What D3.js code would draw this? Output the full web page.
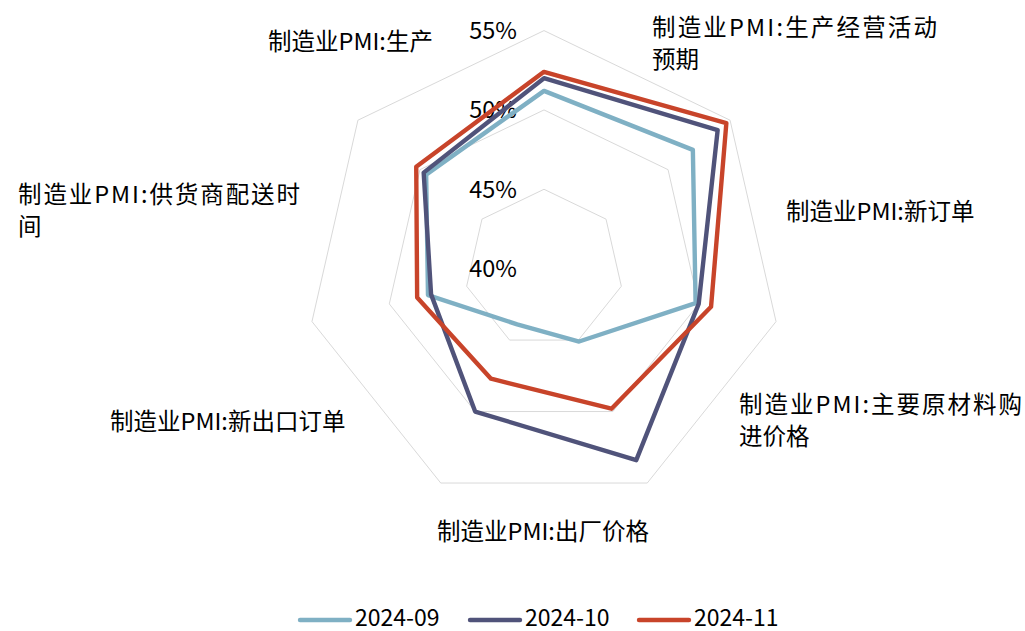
<!DOCTYPE html>
<html>
<head>
<meta charset="utf-8">
<script src="https://cdn.jsdelivr.net/npm/d3@7"></script>
<style>
  body { margin: 0; background: #fff; }
  svg { display: block; font-family: "Noto Sans CJK SC", "Noto Sans", sans-serif; }
</style>
</head>
<body>
<svg id="chart"></svg>
<script>
// categories, clockwise from the top
const categories = [
  '制造业PMI:生产',
  '制造业PMI:生产经营活动预期',
  '制造业PMI:新订单',
  '制造业PMI:主要原材料购进价格',
  '制造业PMI:出厂价格',
  '制造业PMI:新出口订单',
  '制造业PMI:供货商配送时间'
];
const seriesNames = ['2024-09', '2024-10', '2024-11'];
const sep2024 = [51.2, 52.0, 49.8, 45.1, 43.9, 47.5, 49.5];
const oct2024 = [52.0, 54.0, 50.0, 53.4, 50.0, 47.3, 49.7];
const nov2024 = [52.4, 54.7, 50.8, 49.8, 47.7, 48.2, 50.3];
const tickValues = [40, 45, 50, 55];

const width = 1025;
const height = 631;
const cx = 544;
const cy = 268.6;
const radius = 238;
const fontSize = 23.5;
const colors = ['#7fb0c4', '#50537a', '#c8442a'];

// where Excel put the category labels (lines, anchor x, first line centre y, stretched width)
const labelLayout = [
  { lines: ['制造业PMI:生产'], x: 268, y: 42 },
  { lines: ['制造业PMI:生产经营活动', '预期'], x: 652, y: 28, fit: 285 },
  { lines: ['制造业PMI:新订单'], x: 786, y: 212 },
  { lines: ['制造业PMI:主要原材料购', '进价格'], x: 739, y: 405, fit: 283 },
  { lines: ['制造业PMI:出厂价格'], x: 437, y: 532 },
  { lines: ['制造业PMI:新出口订单'], x: 110, y: 422 },
  { lines: ['制造业PMI:供货商配送时', '间'], x: 18, y: 195, fit: 282 }
];

const svg = d3.select('#chart')
  .attr('width', width)
  .attr('height', height);

const g = svg.append('g')
  .attr('transform', `translate(${cx},${cy})`);

const r = d3.scaleLinear().domain([40, 55]).range([0, radius]);
const angle = d3.scalePoint()
  .domain(d3.range(categories.length + 1))
  .range([0, 2 * Math.PI]);

// grid polygons
const gridLine = d3.lineRadial()
  .angle((d, i) => angle(i))
  .radius(d => r(d))
  .curve(d3.curveLinearClosed);

g.selectAll('.grid')
  .data(tickValues.filter(t => t > 40))
  .enter()
  .append('path')
  .attr('d', t => gridLine(categories.map(() => t)))
  .attr('fill', 'none')
  .attr('stroke', '#d9d9d9')
  .attr('stroke-width', 1);

// tick labels
g.selectAll('.tick')
  .data(tickValues)
  .enter()
  .append('text')
  .attr('x', -27)
  .attr('y', t => -r(t))
  .attr('dy', '0.35em')
  .attr('text-anchor', 'end')
  .style('font-size', fontSize + 'px')
  .attr('fill', '#000')
  .text(t => t + '%');

// series
const series = [sep2024, oct2024, nov2024];
const line = d3.lineRadial()
  .angle((d, i) => angle(i))
  .radius(d => r(d))
  .curve(d3.curveLinearClosed);

g.selectAll('.series')
  .data(series)
  .enter()
  .append('path')
  .attr('d', d => line(d))
  .attr('fill', 'none')
  .attr('stroke', (d, i) => colors[i])
  .attr('stroke-width', 4.4)
  .attr('stroke-linejoin', 'round');

// category labels
labelLayout.forEach(lab => {
  lab.lines.forEach((txt, j) => {
    const t = svg.append('text')
      .attr('x', lab.x)
      .attr('y', lab.y + j * 32)
      .attr('dy', '0.35em')
      .style('font-size', fontSize + 'px')
      .attr('fill', '#000')
      .text(txt);
    if (lab.fit && j === 0) {
      t.attr('textLength', lab.fit).attr('lengthAdjust', 'spacing');
    }
  });
});

// legend
const legendX = [298, 468, 637];
const legend = svg.selectAll('.legend')
  .data(seriesNames)
  .enter()
  .append('g')
  .attr('transform', (d, i) => `translate(${legendX[i]},620)`);

legend.append('line')
  .attr('x1', 2).attr('x2', 52)
  .attr('y1', 0).attr('y2', 0)
  .attr('stroke', (d, i) => colors[i])
  .attr('stroke-width', 4.4)
  .attr('stroke-linecap', 'round');

legend.append('text')
  .attr('x', 57)
  .attr('y', -2)
  .attr('dy', '0.35em')
  .style('font-size', '23px')
  .attr('fill', '#000')
  .text(d => d);
</script>
</body>
</html>
